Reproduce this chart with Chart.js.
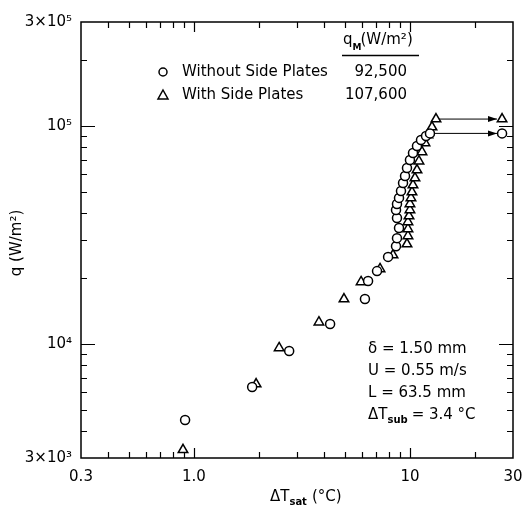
<!DOCTYPE html>
<html>
<head>
<meta charset="utf-8">
<script src="https://cdn.jsdelivr.net/npm/chart.js@4.4.1/dist/chart.umd.min.js"></script>
<style>
  html, body { margin: 0; padding: 0; background: #fff; }
  canvas { display: block; }
</style>
</head>
<body>
<canvas id="boilingChart" width="522" height="509"></canvas>
<script>
// ΔT_sat (°C) vs q (W/m²)
const circleDT = [0.91, 1.86, 2.76, 4.27, 6.19, 6.40, 7.04, 7.92, 8.62, 8.71, 8.90, 8.71, 8.62, 8.71, 8.90, 9.09, 9.29, 9.49, 9.69, 10.0, 10.33, 10.78, 11.25, 11.87, 12.38];
const circleQ = [4480, 6350, 9290, 12350, 16080, 19450, 21600, 25100, 28100, 30600, 34050, 37850, 41200, 43900, 46800, 50350, 54750, 59000, 64200, 69850, 75200, 81000, 86300, 90000, 92500];

const triDT = [0.89, 1.94, 2.48, 3.79, 4.95, 5.94, 7.27, 8.35, 9.69, 9.79, 9.79, 9.79, 9.90, 10.0, 10.0, 10.11, 10.22, 10.33, 10.55, 10.78, 11.01, 11.37, 11.74, 12.12, 12.65, 13.2];
const triQ = [3270, 6550, 9600, 12600, 16080, 19270, 22100, 25600, 28750, 31300, 33700, 36300, 38650, 41200, 43900, 46800, 49800, 53600, 57700, 62800, 69000, 76000, 83600, 91000, 98900, 107600];

// burnout heat flux q_M: [without, with] side plates
const qMax = [92500, 107600];
const qMaxDT = [26.7, 26.7];
const arrowFromDT = [12.38, 13.2];
const arrowToDT = [25.3, 25.3];

const xTicks = [0.3, 0.4, 0.5, 0.6, 0.7, 0.8, 0.9, 1, 2, 3, 4, 5, 6, 7, 8, 9, 10, 20, 30];
const xLabels = { 0.3: '0.3', 1: '1.0', 10: '10', 30: '30' };
const yTicks = [3000, 4000, 5000, 6000, 7000, 8000, 9000, 10000, 20000, 30000, 40000, 50000, 60000, 70000, 80000, 90000, 100000, 200000, 300000];
const yLabels = { 3000: '3×10³', 10000: '10⁴', 100000: '10⁵', 300000: '3×10⁵' };

const FONT = '"DejaVu Sans", sans-serif';

function pts(xs, ys) {
    return xs.map((v, i) => ({ x: v, y: ys[i] }));
}

const decorPlugin = {
    id: 'decor',
    afterDatasetsDraw(chart) {
        const ctx = chart.ctx;
        const a = chart.chartArea;
        const xs = chart.scales.x, ys = chart.scales.y;
        ctx.save();
        ctx.strokeStyle = '#000';
        ctx.fillStyle = '#000';

        // frame
        ctx.lineWidth = 1.5;
        ctx.strokeRect(a.left, a.top, a.right - a.left, a.bottom - a.top);

        // inward ticks on all four sides
        ctx.lineWidth = 1.2;
        ctx.beginPath();
        xTicks.slice(1, -1).forEach(v => {
            const px = Math.round(xs.getPixelForValue(v)) + 0.5;
            const len = (v === 1 || v === 10) ? 10 : 6;
            ctx.moveTo(px, a.bottom); ctx.lineTo(px, a.bottom - len);
            ctx.moveTo(px, a.top); ctx.lineTo(px, a.top + len);
        });
        yTicks.slice(1, -1).forEach(v => {
            const py = Math.round(ys.getPixelForValue(v)) + 0.5;
            const len = (v === 10000 || v === 100000) ? 14 : 6;
            ctx.moveTo(a.left, py); ctx.lineTo(a.left + len, py);
            ctx.moveTo(a.right, py); ctx.lineTo(a.right - len, py);
        });
        ctx.stroke();

        // arrowheads
        [2, 3].forEach(i => {
            const p = chart.getDatasetMeta(i).data[1];
            ctx.beginPath();
            ctx.moveTo(p.x, p.y);
            ctx.lineTo(p.x - 9, p.y - 3);
            ctx.lineTo(p.x - 9, p.y + 3);
            ctx.closePath();
            ctx.fill();
        });

        // axis titles
        ctx.font = '15px ' + FONT;
        ctx.textBaseline = 'middle';
        ctx.save();
        ctx.translate(17, 243);
        ctx.rotate(-Math.PI / 2);
        ctx.textAlign = 'center';
        ctx.fillText('q (W/m²)', 0, 0);
        ctx.restore();

        ctx.textAlign = 'left';
        ctx.fillText('ΔT', 270, 497);
        let w = ctx.measureText('ΔT').width;
        ctx.font = 'bold 10px ' + FONT;
        ctx.fillText('sat', 270 + w, 502);
        const w2 = ctx.measureText('sat').width;
        ctx.font = '15px ' + FONT;
        ctx.fillText('(°C)', 270 + w + w2 + 5, 497);

        // legend header
        ctx.fillText('q', 343, 40);
        w = ctx.measureText('q').width;
        ctx.font = 'bold 9px ' + FONT;
        ctx.fillText('M', 343 + w, 48);
        ctx.font = '15px ' + FONT;
        ctx.fillText('(W/m²)', 343 + w + 8, 40);
        ctx.lineWidth = 1.5;
        ctx.beginPath();
        ctx.moveTo(342, 55.5); ctx.lineTo(419, 55.5);
        ctx.stroke();

        // legend rows
        ctx.lineWidth = 1.5;
        ctx.beginPath();
        ctx.arc(163, 72, 4, 0, Math.PI * 2);
        ctx.stroke();
        ctx.beginPath();
        ctx.moveTo(163, 90); ctx.lineTo(168, 99); ctx.lineTo(158, 99); ctx.closePath();
        ctx.stroke();
        ctx.fillText('Without Side Plates', 182, 72);
        ctx.fillText('With Side Plates', 182, 95);
        ctx.textAlign = 'right';
        ctx.fillText('92,500', 407, 72);
        ctx.fillText('107,600', 407, 95);

        // test conditions
        ctx.textAlign = 'left';
        ctx.fillText('δ = 1.50 mm', 368, 349);
        ctx.fillText('U = 0.55 m/s', 368, 371);
        ctx.fillText('L = 63.5 mm', 368, 393);
        ctx.fillText('ΔT', 368, 415);
        w = ctx.measureText('ΔT').width;
        ctx.font = 'bold 10px ' + FONT;
        ctx.fillText('sub', 368 + w, 420);
        const w3 = ctx.measureText('sub').width;
        ctx.font = '15px ' + FONT;
        ctx.fillText('= 3.4 °C', 368 + w + w3 + 4, 415);

        ctx.restore();
    }
};

const marker = {
    borderColor: '#000',
    backgroundColor: '#fff',
    borderWidth: 1.5,
    showLine: false
};

new Chart(document.getElementById('boilingChart'), {
    type: 'scatter',
    data: {
        datasets: [
            Object.assign({ label: 'Without Side Plates', data: pts(circleDT.concat([qMaxDT[0]]), circleQ.concat([qMax[0]])), pointStyle: 'circle', pointRadius: 4.5 }, marker),
            Object.assign({ label: 'With Side Plates', data: pts(triDT.concat([qMaxDT[1]]), triQ.concat([qMax[1]])), pointStyle: 'triangle', pointRadius: 5.5 }, marker),
            { label: 'arrow1', data: [{ x: arrowFromDT[0], y: qMax[0] }, { x: arrowToDT[0], y: qMax[0] }], showLine: true, borderColor: '#000', borderWidth: 1, pointRadius: 0 },
            { label: 'arrow2', data: [{ x: arrowFromDT[1], y: qMax[1] }, { x: arrowToDT[1], y: qMax[1] }], showLine: true, borderColor: '#000', borderWidth: 1, pointRadius: 0 }
        ]
    },
    options: {
        responsive: false,
        animation: false,
        devicePixelRatio: 1,
        layout: { padding: { top: 22, right: 9, left: 0, bottom: 0 } },
        plugins: { legend: { display: false }, tooltip: { enabled: false } },
        scales: {
            x: {
                type: 'logarithmic',
                min: 0.3,
                max: 30,
                afterBuildTicks: s => { s.ticks = xTicks.map(v => ({ value: v })); },
                afterFit: s => { s.height = 51; s.paddingLeft = 0; s.paddingRight = 0; },
                grid: { display: false, drawTicks: false },
                border: { display: false },
                ticks: {
                    autoSkip: false,
                    maxRotation: 0,
                    padding: 10,
                    color: '#000',
                    font: { family: FONT, size: 15 },
                    callback: v => xLabels[v] || ''
                }
            },
            y: {
                type: 'logarithmic',
                min: 3000,
                max: 300000,
                afterBuildTicks: s => { s.ticks = yTicks.map(v => ({ value: v })); },
                afterFit: s => { s.width = 81; s.paddingTop = 0; s.paddingBottom = 0; },
                grid: { display: false, drawTicks: false },
                border: { display: false },
                ticks: {
                    autoSkip: false,
                    padding: 9,
                    color: '#000',
                    font: { family: FONT, size: 15 },
                    callback: v => yLabels[v] || ''
                }
            }
        }
    },
    plugins: [decorPlugin]
});
</script>
</body>
</html>
